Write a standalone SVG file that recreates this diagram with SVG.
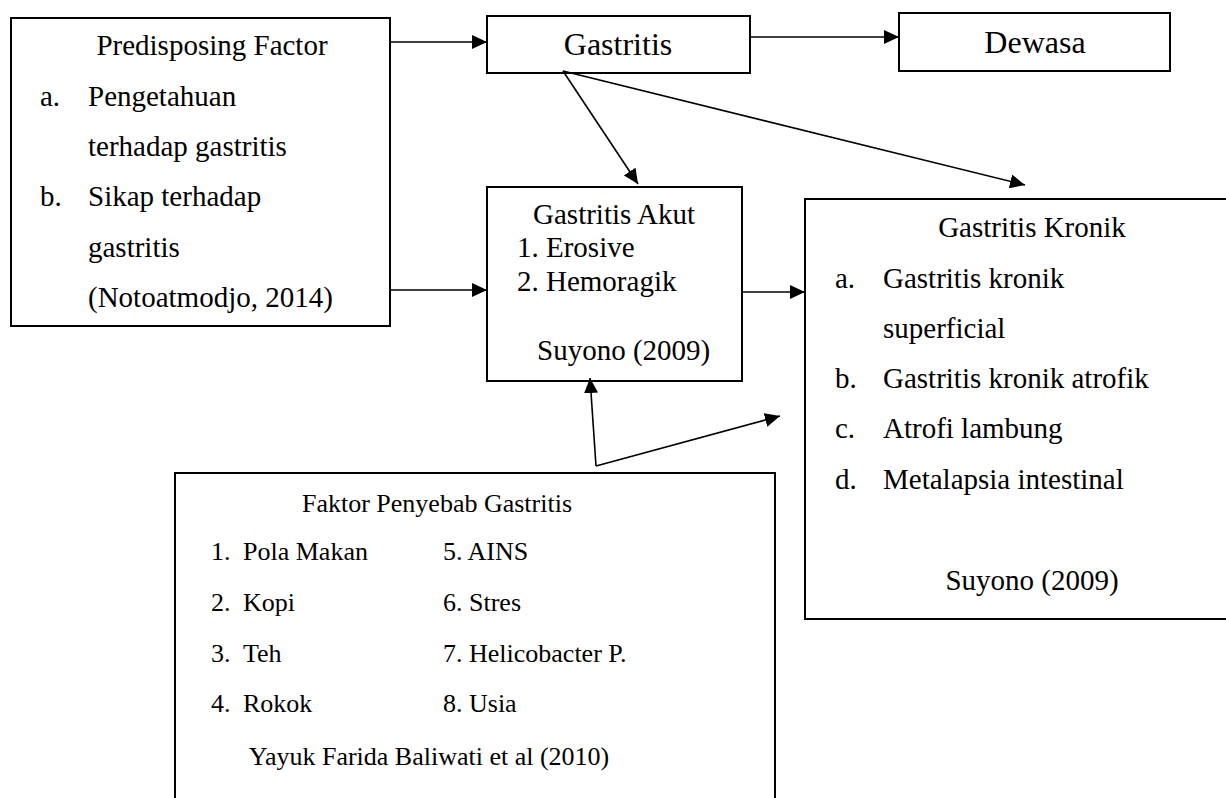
<svg xmlns="http://www.w3.org/2000/svg" width="1226" height="798" viewBox="0 0 1226 798">
<style>
.box{fill:#fff;stroke:#000;stroke-width:2}
.t{font-family:"Liberation Serif","Times New Roman",serif;font-size:29px;fill:#000}
.b{font-size:32px}
.f{font-size:26px}
.c{text-anchor:middle}
.ln{stroke:#000;stroke-width:1.6;fill:none;marker-end:url(#ah)}
</style>
<defs>
<marker id="ah" markerUnits="userSpaceOnUse" markerWidth="16" markerHeight="14" refX="15" refY="7" orient="auto">
<path d="M0,0 L15,7 L0,14 z" fill="#000"/>
</marker>
</defs>
<rect width="1226" height="798" fill="#fff"/>
<g id="predisposing">
<rect class="box" x="11" y="18" width="379" height="308"/>
<text class="t c" x="212" y="55">Predisposing Factor</text>
<text class="t" x="40" y="106">a.</text>
<text class="t" x="88" y="106">Pengetahuan</text>
<text class="t" x="88" y="156">terhadap gastritis</text>
<text class="t" x="40" y="206">b.</text>
<text class="t" x="88" y="206">Sikap terhadap</text>
<text class="t" x="88" y="257">gastritis</text>
<text class="t" x="88" y="307">(Notoatmodjo, 2014)</text>
</g>
<g id="gastritis">
<rect class="box" x="487" y="16" width="263" height="57"/>
<text class="t b c" x="618" y="55">Gastritis</text>
</g>
<g id="dewasa">
<rect class="box" x="899" y="13" width="271" height="58"/>
<text class="t b c" x="1035" y="53">Dewasa</text>
</g>
<g id="akut">
<rect class="box" x="487" y="187" width="255" height="194"/>
<text class="t c" x="614" y="224">Gastritis Akut</text>
<text class="t" x="517" y="257">1. Erosive</text>
<text class="t" x="517" y="291">2. Hemoragik</text>
<text class="t" x="537" y="360">Suyono (2009)</text>
</g>
<g id="kronik">
<rect class="box" x="805" y="199" width="440" height="420"/>
<text class="t c" x="1032" y="237">Gastritis Kronik</text>
<text class="t" x="835" y="288">a.</text>
<text class="t" x="883" y="288">Gastritis kronik</text>
<text class="t" x="883" y="338">superficial</text>
<text class="t" x="835" y="388">b.</text>
<text class="t" x="883" y="388">Gastritis kronik atrofik</text>
<text class="t" x="835" y="438">c.</text>
<text class="t" x="883" y="438">Atrofi lambung</text>
<text class="t" x="835" y="489">d.</text>
<text class="t" x="883" y="489">Metalapsia intestinal</text>
<text class="t c" x="1032" y="590">Suyono (2009)</text>
</g>
<g id="faktor">
<rect class="box" x="175" y="473" width="600" height="400"/>
<text class="t f c" x="437" y="512">Faktor Penyebab Gastritis</text>
<text class="t f" x="211" y="560">1.</text>
<text class="t f" x="243" y="560">Pola Makan</text>
<text class="t f" x="211" y="611">2.</text>
<text class="t f" x="243" y="611">Kopi</text>
<text class="t f" x="211" y="662">3.</text>
<text class="t f" x="243" y="662">Teh</text>
<text class="t f" x="211" y="712">4.</text>
<text class="t f" x="243" y="712">Rokok</text>
<text class="t f" x="443" y="560">5. AINS</text>
<text class="t f" x="443" y="611">6. Stres</text>
<text class="t f" x="443" y="662">7. Helicobacter P.</text>
<text class="t f" x="443" y="712">8. Usia</text>
<text class="t f c" x="429" y="765">Yayuk Farida Baliwati et al (2010)</text>
</g>
<g id="connectors">
<line class="ln" x1="390" y1="42" x2="487" y2="42"/>
<line class="ln" x1="390" y1="290" x2="487" y2="290"/>
<line class="ln" x1="750" y1="37" x2="899" y2="37"/>
<line class="ln" x1="563" y1="71" x2="638" y2="184"/>
<line class="ln" x1="563" y1="71" x2="1025" y2="185"/>
<line class="ln" x1="742" y1="292" x2="805" y2="292"/>
<line class="ln" x1="596" y1="466" x2="590" y2="378"/>
<line class="ln" x1="596" y1="466" x2="780" y2="416"/>
</g>
</svg>
